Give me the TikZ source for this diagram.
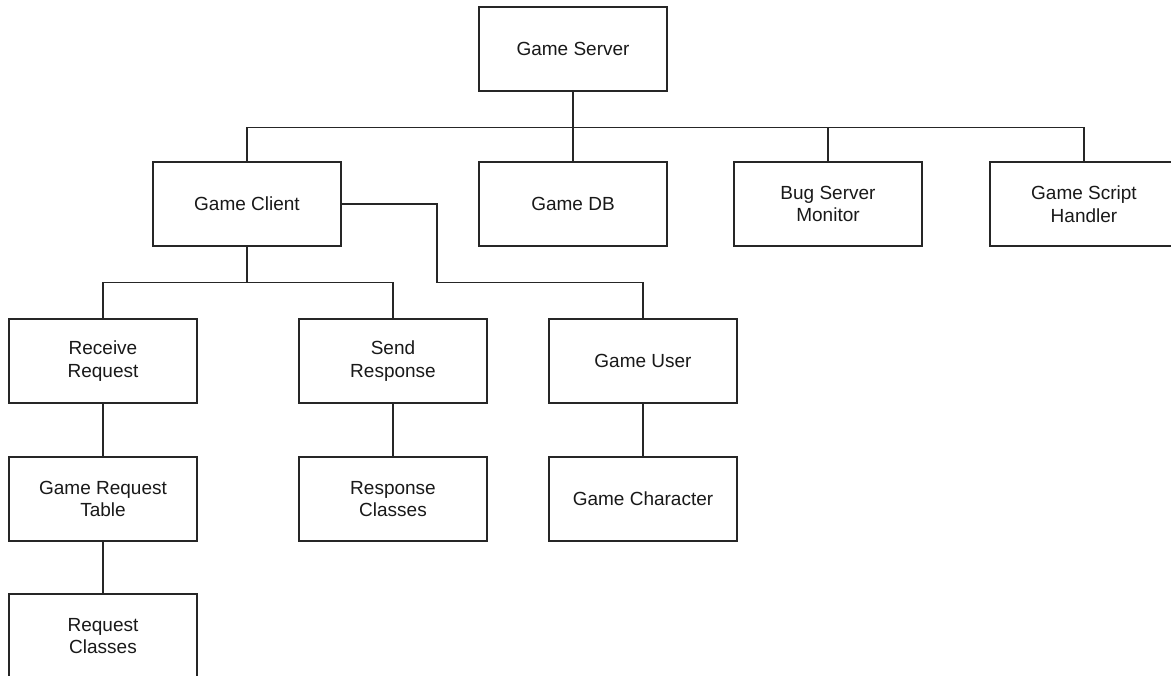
\documentclass[tikz,border=0pt]{standalone}
\usepackage{fontspec}
\setmainfont{Liberation Sans}
\begin{document}
\begin{tikzpicture}[x=1pt,y=-1pt,
  box/.style={draw=black!85,line width=1.2pt,fill=white,minimum width=188pt,minimum height=84pt,inner sep=0pt,align=center,font=\fontsize{19}{22.5}\selectfont,text=black!90},
  link/.style={draw=black!85,line width=1.2pt}]
\useasboundingbox (0,0) rectangle (1171,676);
\clip (0,0) rectangle (1171,676);
\node[box] (server) at (573,49) {Game Server};
\node[box] (client) at (247,204) {Game Client};
\node[box] (db) at (573,204) {Game DB};
\node[box] (bug) at (828,204) {Bug Server\\Monitor};
\node[box] (script) at (1084,204) {Game Script\\Handler};
\node[box] (recv) at (103,361) {Receive\\Request};
\node[box] (send) at (393,361) {Send\\Response};
\node[box] (user) at (643,361) {Game User};
\node[box] (table) at (103,499) {Game Request\\Table};
\node[box] (resp) at (393,499) {Response\\Classes};
\node[box] (char) at (643,499) {Game Character};
\node[box] (reqc) at (103,636) {Request\\Classes};
\coordinate (b1) at (573,127.5);
\coordinate (b2) at (247,282.5);
\coordinate (b3) at (437,204);
\coordinate (b4) at (437,282.5);
\draw[link] (server.south) -- (b1);
\draw[link] (b1) -| (client.north);
\draw[link] (b1) -- (db.north);
\draw[link] (b1) -| (bug.north);
\draw[link] (b1) -| (script.north);
\draw[link] (client.south) -- (b2);
\draw[link] (b2) -| (recv.north);
\draw[link] (b2) -| (send.north);
\draw[link] (client.east) -- (b3) -- (b4) -| (user.north);
\draw[link] (recv.south) -- (table.north);
\draw[link] (table.south) -- (reqc.north);
\draw[link] (send.south) -- (resp.north);
\draw[link] (user.south) -- (char.north);
\end{tikzpicture}
\end{document}
